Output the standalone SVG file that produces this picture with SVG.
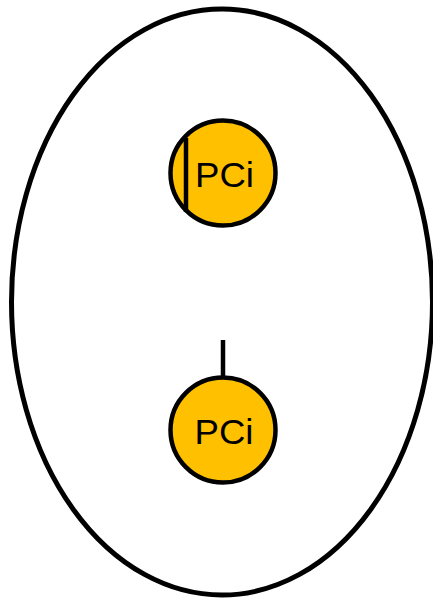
<svg xmlns="http://www.w3.org/2000/svg" width="433" height="601" viewBox="0 0 433 601">
<style>
.pc{fill:#FFC000;stroke:#000;stroke-width:4.5}
.t{font-family:"Liberation Sans",Arial,sans-serif;font-size:35px;fill:#000;text-anchor:middle}
.ln{stroke:#000;stroke-width:4.5;fill:none}
</style>
<rect width="433" height="601" fill="#fff"/>
<g id="cell"><ellipse cx="222" cy="302" rx="210.5" ry="293" fill="#fff" stroke="#000" stroke-width="5"/></g>
<g id="pci1"><circle class="pc" cx="223" cy="173" r="52.5"/><text class="t" x="224.5" y="187" textLength="59" lengthAdjust="spacingAndGlyphs">PCi</text></g>
<g id="pci2"><circle class="pc" cx="223" cy="430" r="52.5"/><text class="t" x="224" y="443.5" textLength="59" lengthAdjust="spacingAndGlyphs">PCi</text></g>
<g id="connectors">
<line class="ln" x1="186" y1="138" x2="186" y2="212"/>
<line class="ln" x1="223" y1="340" x2="223" y2="377"/>
</g>
</svg>
